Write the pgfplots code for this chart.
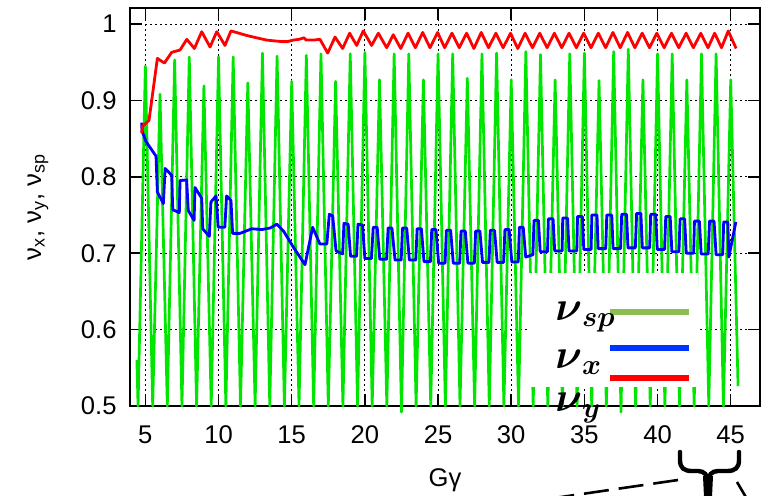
\documentclass[border=0pt]{standalone}
\usepackage{fontspec}
\setmainfont{Liberation Sans}
\usepackage{amsmath}
\usepackage{pgfplots}
\pgfplotsset{compat=1.18}

\definecolor{gpgreen}{RGB}{0,230,0}
\definecolor{gpblue}{RGB}{0,0,255}
\definecolor{gpred}{RGB}{255,0,0}
\definecolor{lgreen}{RGB}{139,189,80}
\definecolor{lblue}{RGB}{0,51,255}

\begin{document}
\begin{tikzpicture}
\begin{axis}[
  at={(65pt,44.5pt)}, anchor=south west,
  width=315pt, height=199pt, scale only axis,
  xmin=3.95, xmax=47, ymin=0.5, ymax=1.021,
  xtick={5,10,...,45},
  ytick={0.5,0.6,0.7,0.8,0.9,1},
  yticklabels={0.5,0.6,0.7,0.8,0.9,1},
  tick align=inside, tick pos=both,
  major tick length=6pt,
  grid=major,
  major grid style={black, line width=0.5pt, dash pattern=on 1pt off 1.5pt},
  axis line style={line width=0.75pt},
  every tick/.style={black, line width=0.75pt},
  tick label style={font=\fontsize{12.8}{15}\selectfont},
  /pgf/number format/assume math mode=true,
  xticklabel style={yshift=-6.5pt},
  yticklabel style={xshift=-3.2pt},
  label style={font=\fontsize{12.8}{15}\selectfont},
  xlabel={Gγ},
  ylabel={ν\textsubscript{x}, ν\textsubscript{y}, ν\textsubscript{sp}},
  xlabel style={at={(axis description cs:0.5,-0.186)}, anchor=center},
  ylabel style={at={(axis description cs:-0.146,0.5)}, anchor=center},
  clip=false,
]
% nu_sp
\addplot[gpgreen, line width=1.35pt, line join=round] coordinates {
(4.42,0.56) (4.5,0.5) (5,0.945) (5.5,0.5) (6,0.908) (6.5,0.5) (7,0.953) (7.5,0.5)
(8,0.957) (8.5,0.5) (9,0.919) (9.5,0.5) (10,0.957) (10.5,0.5) (11,0.957) (11.5,0.5)
(12,0.923) (12.5,0.5) (13,0.962) (13.5,0.5) (14,0.958) (14.5,0.5) (15,0.925) (15.5,0.5)
(16,0.959) (16.5,0.5) (17,0.961) (17.5,0.5) (18,0.925) (18.5,0.5) (19,0.961) (19.5,0.5)
(20,0.963) (20.5,0.5) (21,0.927) (21.5,0.5) (22,0.961) (22.5,0.492) (23,0.961) (23.5,0.5)
(24,0.927) (24.5,0.5) (25,0.961) (25.5,0.5) (26,0.961) (26.5,0.5) (27,0.929) (27.5,0.5)
(28,0.961) (28.5,0.5) (29,0.962) (29.5,0.5) (30,0.927) (30.5,0.5) (31,0.964) (31.5,0.5)
(32,0.960) (32.5,0.5) (33,0.927) (33.5,0.5) (34,0.961) (34.5,0.5) (35,0.962) (35.5,0.5)
(36,0.926) (36.5,0.5) (37,0.964) (37.5,0.492) (38,0.967) (38.5,0.5) (39,0.927) (39.5,0.5)
(40,0.961) (40.5,0.5) (41,0.961) (41.5,0.5) (42,0.927) (42.5,0.5) (43,0.961) (43.5,0.5)
(44,0.961) (44.5,0.5) (45,0.927) (45.5,0.526)
};
% nu_x
\addplot[gpblue, line width=1.4pt, line join=round] coordinates {
(4.75,0.871) (4.77,0.860) (5.05,0.846) (5.73,0.827) (5.82,0.780) (6.23,0.765) (6.35,0.811)
(6.80,0.802) (6.87,0.757) (7.32,0.753) (7.37,0.795) (7.82,0.796) (7.93,0.756) (8.33,0.743)
(8.39,0.786) (8.85,0.772) (8.92,0.732) (9.37,0.722) (9.48,0.767) (9.83,0.775) (9.98,0.734)
(10.43,0.734) (10.55,0.775) (10.85,0.769) (10.96,0.726) (11.47,0.726) (12.27,0.732)
(12.96,0.731) (13.53,0.733) (13.98,0.738) (14.44,0.729) (15.11,0.708) (15.91,0.685)
(16.43,0.734) (16.93,0.712) (17.4,0.712) (17.57,0.751) (17.8,0.749) (18.03,0.703)
(18.48,0.699) (18.57,0.739) (18.86,0.738) (19.02,0.696) (19.43,0.696) (19.53,0.738)
(19.84,0.737) (20.0,0.693) (20.45,0.693) (20.57,0.734) (20.84,0.734) (21.02,0.692)
(21.48,0.692) (21.59,0.733) (21.85,0.733) (22.06,0.691) (22.48,0.691)
(22.57,0.733) (22.86,0.733) (23.04,0.691) (23.48,0.691)
(23.57,0.732) (23.86,0.732) (24.04,0.689) (24.48,0.689)
(24.57,0.731) (24.86,0.731) (25.04,0.687) (25.48,0.687)
(25.57,0.730) (25.86,0.730) (26.04,0.687) (26.48,0.687)
(26.57,0.729) (26.86,0.729) (27.04,0.687) (27.48,0.687)
(27.57,0.729) (27.86,0.729) (28.04,0.688) (28.48,0.688)
(28.57,0.730) (28.86,0.730) (29.04,0.688) (29.48,0.688)
(29.57,0.731) (29.86,0.731) (30.04,0.6885) (30.48,0.6885)
(30.56,0.734) (30.82,0.734) (30.99,0.695) (31.48,0.698)
(31.56,0.743) (31.86,0.743) (31.98,0.702) (32.48,0.702)
(32.54,0.745) (32.86,0.745) (32.97,0.703) (33.48,0.703)
(33.52,0.746) (33.85,0.746) (33.95,0.703) (34.48,0.703)
(34.53,0.748) (34.86,0.748) (34.96,0.705) (35.46,0.705)
(35.51,0.750) (35.86,0.750) (35.94,0.706) (36.46,0.706)
(36.53,0.750) (36.87,0.750) (36.96,0.706) (37.47,0.706)
(37.55,0.751) (37.88,0.751) (37.98,0.707) (38.48,0.707)
(38.57,0.752) (38.86,0.752) (38.96,0.707) (39.46,0.707)
(39.53,0.751) (39.87,0.751) (39.98,0.705) (40.48,0.705)
(40.56,0.748) (40.86,0.748) (40.98,0.702) (41.46,0.702)
(41.54,0.745) (41.85,0.745) (41.96,0.700) (42.47,0.700)
(42.52,0.742) (42.86,0.742) (42.98,0.699) (43.46,0.699)
(43.55,0.742) (43.86,0.742) (44.0,0.698) (44.45,0.698)
(44.52,0.741) (44.8,0.741) (44.87,0.695) (45.35,0.741)
};
% nu_y
\addplot[gpred, line width=1.4pt, line join=round] coordinates {
(4.75,0.857) (4.8,0.866) (5.25,0.874) (5.82,0.955) (6.3,0.949) (6.8,0.963) (7.37,0.966)
(7.83,0.980) (8.35,0.968) (8.85,0.990) (9.42,0.970) (9.88,0.990) (10.44,0.972)
(10.85,0.991) (11.4,0.988) (11.93,0.985) (12.6,0.982) (13.29,0.979) (13.8,0.978)
(14.32,0.977) (14.7,0.977) (15.11,0.979) (15.5,0.980) (15.84,0.982) (15.98,0.979)
(16.5,0.979) (16.93,0.980) (17.46,0.962) (17.96,0.983) (18.48,0.968) (18.96,0.988)
(19.44,0.972) (19.89,0.991) (20.46,0.972) (20.92,0.988) (21.49,0.969) (21.94,0.986)
(22.45,0.968) (22.95,0.988) (23.45,0.969) (23.95,0.989) (24.45,0.969) (24.97,0.989)
(25.45,0.969) (25.95,0.988) (26.45,0.969) (26.95,0.988) (27.45,0.968) (27.95,0.989)
(28.45,0.969) (28.95,0.988) (29.45,0.969) (29.95,0.988) (30.45,0.968) (30.95,0.988)
(31.45,0.969) (31.95,0.988) (32.45,0.969) (32.95,0.988) (33.45,0.969) (33.95,0.988)
(34.45,0.969) (34.95,0.988) (35.45,0.969) (35.95,0.988) (36.45,0.969) (36.95,0.989)
(37.45,0.969) (37.95,0.989) (38.45,0.969) (38.95,0.988) (39.45,0.969) (39.95,0.988)
(40.45,0.969) (40.95,0.988) (41.45,0.969) (41.95,0.988) (42.45,0.969) (42.95,0.988)
(43.45,0.969) (43.9,0.988) (44.37,0.969) (44.83,0.991) (45.37,0.968)
};
\end{axis}

% overlay drawn in pixel units of the 782x495 frame, y from the top
\begin{scope}[x=0.5pt, y=-0.5pt, shift={(0pt,247.5pt)}]
  \fill[white] (527,273) rectangle (698,387);
  \draw[lgreen, line width=3pt] (610,312) -- (689,312);
  \draw[lblue, line width=3pt] (610,348) -- (689,348);
  \draw[gpred, line width=3pt] (610,378) -- (689,378);
  \node[anchor=base west, inner sep=0pt, font=\fontsize{20.74}{25}\selectfont]
    at (555,320) {$\boldsymbol{\nu}_{\boldsymbol{sp}}$};
  \node[anchor=base west, inner sep=0pt, font=\fontsize{20.74}{25}\selectfont]
    at (555,368) {$\boldsymbol{\nu}_{\boldsymbol{x}}$};
  \node[anchor=base west, inner sep=0pt, font=\fontsize{20.74}{25}\selectfont]
    at (555,411.7) {$\boldsymbol{\nu}_{\boldsymbol{y}}$};
  % brace and pointer lines
  \draw[line width=2.2pt, line cap=round]
    (680,452) -- (680,460) .. controls (680,468) and (684,471) .. (692,471)
    -- (698,471) .. controls (704,471) and (708,475) .. (708,482) -- (708,497);
  \draw[line width=2.2pt, line cap=round]
    (739,452) -- (739,460) .. controls (739,468) and (735,471) .. (727,471)
    -- (718,471) .. controls (712,471) and (708,475) .. (708,482);
  \fill (703,476) -- (713,476) -- (712,497) -- (704,497) -- cycle;
  \draw[line width=1.3pt, dash pattern=on 12.5pt off 5pt] (678,480) -- (520,503);
  \draw[line width=1.3pt] (737,482) -- (747,499);
  \pgfresetboundingbox
  \useasboundingbox (0,0) rectangle (782,495);
\end{scope}
\end{tikzpicture}
\end{document}
